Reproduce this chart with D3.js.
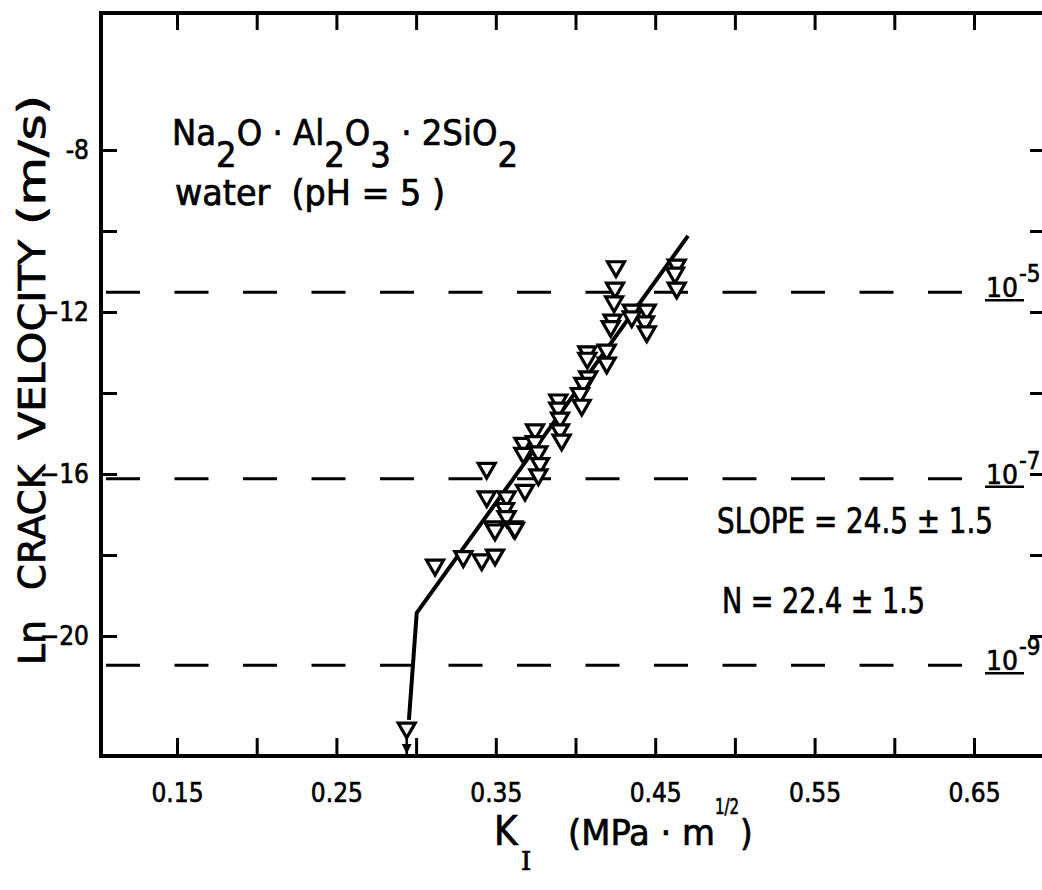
<!DOCTYPE html>
<html>
<head>
<meta charset="utf-8">
<script src="https://cdn.jsdelivr.net/npm/d3@7/dist/d3.min.js"></script>
<style>
  body { margin: 0; background: #fff; }
  svg { display: block; }
  text { fill: #000; }
</style>
</head>
<body>
<svg id="chart" width="1042" height="890"></svg>
<script>
// measured points: K_I (MPa m^1/2) vs ln crack velocity (m/s)
const kValues = [0.4254, 0.4248, 0.4242, 0.4233, 0.4221, 0.4353, 0.4447, 0.4436, 0.4447, 0.4635,
  0.4624, 0.4635, 0.4353, 0.4074, 0.4074, 0.4196, 0.4196, 0.4080, 0.4049, 0.4028,
  0.4039, 0.3892, 0.3892, 0.3903, 0.3903, 0.3913, 0.3746, 0.3673, 0.3746, 0.3673,
  0.3767, 0.3777, 0.3767, 0.3683, 0.3443, 0.3443, 0.3568, 0.3558, 0.3568, 0.3484,
  0.3610, 0.3119, 0.3296, 0.3412, 0.3495, 0.3495, 0.3620];
const lnV = [-10.88, -11.41, -11.75, -12.20, -12.36, -11.95, -11.95, -12.24, -12.49, -10.84,
  -11.04, -11.41, -12.12, -12.98, -13.14, -12.94, -13.26, -13.60, -13.76, -14.01,
  -14.30, -14.17, -14.37, -14.62, -14.91, -15.16, -14.91, -15.24, -15.20, -15.49,
  -15.45, -15.74, -16.02, -16.40, -15.86, -16.56, -16.56, -16.85, -17.05, -17.30,
  -17.30, -18.25, -18.04, -18.12, -18.00, -17.38, -17.34];

// point below detection (drawn with arrow)
const belowK = [0.2941];
const belowLnV = [-22.27];

// fitted curve
const fitK = [0.2955, 0.3004, 0.4706];
const fitLnV = [-22.07, -19.43, -10.12];

const xTicks = [0.15, 0.20, 0.25, 0.30, 0.35, 0.40, 0.45, 0.50, 0.55, 0.60, 0.65];
const xTickLabels = ["0.15", "", "0.25", "", "0.35", "", "0.45", "", "0.55", "", "0.65"];
const yTicks = [-8, -10, -12, -14, -16, -18, -20];
const yTickLabels = ["-8", "", "\u221212", "", "\u221216", "", "\u221220"];

const velocities = [1e-5, 1e-7, 1e-9];
const velocityExp = ["-5", "-7", "-9"];

const yTitleWords = ["Ln", "CRACK", "VELOCITY", "(m/s)"];

const svg = d3.select("#chart");
const frame = { left: 101, top: 13, bottom: 756, right: 1046 };

const x = d3.scaleLinear().domain([0.15, 0.65]).range([177, 974]);
const y = d3.scaleLinear().domain([-8, -20]).range([150, 636]);

// frame
svg.append("path")
  .attr("d", `M${frame.right},${frame.top}H${frame.left}V${frame.bottom}H${frame.right}`)
  .attr("fill", "none")
  .attr("stroke", "#000")
  .attr("stroke-width", 4);

const tickFont = "'DejaVu Sans Condensed', 'DejaVu Sans', sans-serif";
const annFont = "'DejaVu Sans Condensed', 'DejaVu Sans', sans-serif";

const bottomAxis = svg.append("g")
  .attr("transform", `translate(0,${frame.bottom})`)
  .call(d3.axisBottom(x).tickValues(xTicks).tickSizeInner(-18).tickSizeOuter(0).tickPadding(28)
    .tickFormat((d, i) => xTickLabels[i]));

const topAxis = svg.append("g")
  .attr("transform", `translate(0,${frame.top})`)
  .call(d3.axisTop(x).tickValues(xTicks).tickSizeInner(-17).tickSizeOuter(0).tickFormat(""));

const leftAxis = svg.append("g")
  .attr("transform", `translate(${frame.left},0)`)
  .call(d3.axisLeft(y).tickValues(yTicks).tickSizeInner(-16).tickSizeOuter(0).tickPadding(12)
    .tickFormat((d, i) => yTickLabels[i]));

const rightAxis = svg.append("g")
  .attr("transform", `translate(1042,0)`)
  .call(d3.axisRight(y).tickValues(yTicks).tickSizeInner(-12).tickSizeOuter(0).tickFormat(""));

[bottomAxis, topAxis, leftAxis, rightAxis].forEach(g => {
  g.select(".domain").remove();
  g.selectAll(".tick line").attr("stroke", "#000").attr("stroke-width", 3);
  g.selectAll(".tick text")
    .attr("fill", "#000")
    .attr("stroke", "#000")
    .attr("stroke-width", 0.6)
    .style("font-family", tickFont)
    .style("font-size", "26px");
});

// constant velocity reference lines
const refLines = svg.append("g");
velocities.forEach((v, i) => {
  const yy = y(Math.log(v));
  refLines.append("line")
    .attr("x1", frame.left + 2).attr("x2", 962)
    .attr("y1", yy).attr("y2", yy)
    .attr("stroke", "#000")
    .attr("stroke-width", 3)
    .attr("stroke-dasharray", "34 34.5")
    .attr("stroke-dashoffset", 65.5);
  const lab = refLines.append("text")
    .attr("x", 986).attr("y", yy + 5)
    .attr("stroke", "#000").attr("stroke-width", 0.6)
    .style("font-family", tickFont)
    .style("font-size", "27px");
  lab.append("tspan").attr("textLength", 32).attr("lengthAdjust", "spacingAndGlyphs").text("10");
  lab.append("tspan").attr("dy", -15).attr("dx", 1).style("font-size", "24px").text(velocityExp[i]);
  refLines.append("line")
    .attr("x1", 985).attr("x2", 1024)
    .attr("y1", yy + 8).attr("y2", yy + 8)
    .attr("stroke", "#000").attr("stroke-width", 2.5);
});

// fitted line
svg.append("path")
  .datum(fitK.map((k, i) => [k, fitLnV[i]]))
  .attr("fill", "none")
  .attr("stroke", "#000")
  .attr("stroke-width", 4)
  .attr("stroke-linejoin", "round")
  .attr("d", d3.line().x(d => x(d[0])).y(d => y(d[1])));

// arrow for bound point
svg.append("defs").append("marker")
  .attr("id", "arrow")
  .attr("viewBox", "0 0 10 10")
  .attr("refX", 10).attr("refY", 5)
  .attr("markerWidth", 4).attr("markerHeight", 4)
  .attr("orient", "auto")
  .append("path").attr("d", "M0,0L10,5L0,10z").attr("fill", "#000");

svg.append("g").selectAll("line")
  .data(belowK.map((k, i) => [k, belowLnV[i]]))
  .join("line")
  .attr("x1", d => x(d[0])).attr("x2", d => x(d[0]))
  .attr("y1", d => y(d[1]) + 7).attr("y2", frame.bottom - 2)
  .attr("stroke", "#000").attr("stroke-width", 2.5)
  .attr("marker-end", "url(#arrow)");

// triangles
const tri = d3.symbol(d3.symbolTriangle, 125);
const pts = kValues.map((k, i) => [k, lnV[i]]).concat(belowK.map((k, i) => [k, belowLnV[i]]));
svg.append("g").selectAll("path")
  .data(pts)
  .join("path")
  .attr("d", tri)
  .attr("transform", d => `translate(${x(d[0])},${y(d[1])}) rotate(180)`)
  .attr("fill", "#fff")
  .attr("stroke", "#000")
  .attr("stroke-width", 3.2);

// annotations
function label(xp, yp, size, len, txt) {
  const t = svg.append("text")
    .attr("x", xp).attr("y", yp)
    .attr("stroke", "#000").attr("stroke-width", 0.7)
    .style("font-family", annFont)
    .style("font-size", size + "px")
    .style("white-space", "pre")
    .text(txt);
  if (len) t.attr("textLength", len).attr("lengthAdjust", "spacingAndGlyphs");
  return t;
}

const formula = svg.append("text")
  .attr("x", 172).attr("y", 145)
  .attr("stroke", "#000").attr("stroke-width", 0.7)
  .style("font-family", annFont)
  .style("font-size", "36px");
const parts = [["Na", 0], ["2", 1], ["O \u00b7 Al", 0], ["2", 1], ["O", 0], ["3", 1], [" \u00b7 2SiO", 0], ["2", 1]];
let lastSub = 0;
parts.forEach(([t, sub]) => {
  const ts = formula.append("tspan").text(t);
  const dy = (sub - lastSub) * 22;
  if (dy) ts.attr("dy", dy);
  lastSub = sub;
});

label(175, 205, 36, 270, "water  (pH = 5 )");
label(717, 533, 36, 276, "SLOPE = 24.5 \u00b1 1.5");
label(722, 613, 36, 203, "N = 22.4 \u00b1 1.5");

// y title, word by word along the rotated axis
const yTitleStart = [0, 75, 225, 440];
const yTitleLen = [45, 125, 200, 130];
yTitleWords.forEach((w, i) => {
  label(yTitleStart[i], 0, 37, yTitleLen[i], w)
    .attr("transform", "translate(45,665) rotate(-90)");
});

label(494, 845, 40, 0, "K");
label(521, 870, 26, 0, "I").style("font-family", "'DejaVu Serif', serif");
label(568, 845, 36, 147, "(MPa \u00b7 m");
label(715, 814, 22, 24, "1/2");
label(740, 845, 36, 0, ")");
</script>
</body>
</html>
